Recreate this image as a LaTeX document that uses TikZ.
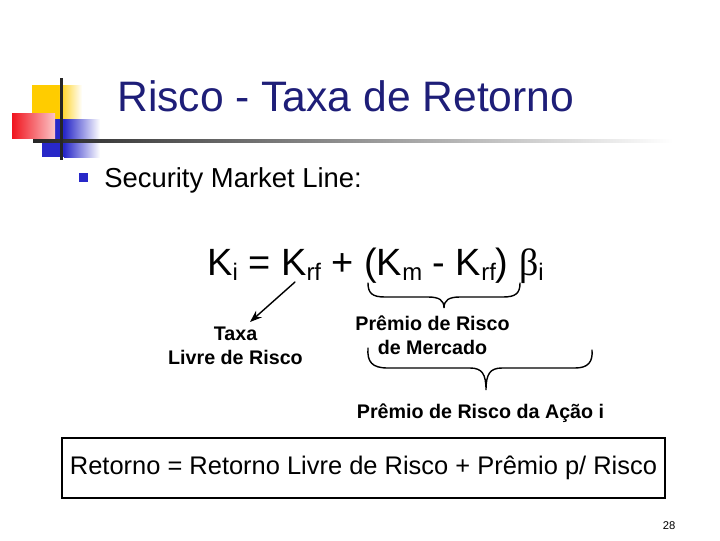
\documentclass[tikz,border=0pt]{standalone}
\usepackage{fontspec}
\setmainfont{Liberation Sans}
\newfontfamily\greekserif{Liberation Serif}
\usetikzlibrary{arrows.meta}
\usepackage{xcolor}
\definecolor{titleblue}{RGB}{30,30,120}
\definecolor{logoyellow}{RGB}{255,204,0}
\definecolor{logored}{RGB}{240,20,30}
\definecolor{logoblue}{RGB}{40,40,200}
\newcommand{\lowsub}[1]{\raisebox{-4pt}{\fontsize{17}{20}\selectfont #1}}

\begin{document}
\begin{tikzpicture}[x=0.025cm,y=-0.025cm,>={Stealth[length=3mm,width=2.2mm]},line cap=round,
  boldlbl/.style={font=\fontsize{14}{17}\selectfont\bfseries,align=center,inner sep=0pt},
  brace/.style={line width=1pt}]
\useasboundingbox (0,0) rectangle (720,540);
% logo
\fill[logoyellow] (32,85) rectangle (58,122);
\shade[left color=logoyellow,right color=white] (58,85) rectangle (82,122);
\fill[logoblue] (42,119) rectangle (64,157);
\shade[left color=logoblue,right color=white] (64,119) rectangle (100,157);
\shade[left color=logored,right color=logored!25] (12,113) rectangle (55,138);
\shade[left color=black!85,right color=white] (33,139.5) rectangle (673,142.5);
\fill[black!85] (59.5,78) rectangle (62.5,160);
\node[anchor=base west,text=titleblue,font=\fontsize{30.3}{36}\selectfont,inner sep=0pt] (title) at (117,111) {Risco - Taxa de Retorno};
% bullet
\fill[logoblue] (79,173) rectangle (88,182);
\node[anchor=base west,font=\fontsize{19.5}{23}\selectfont,inner sep=0pt] (sml) at (104,187) {Security Market Line:};
% formula
\node[anchor=base west,font=\fontsize{27}{32}\selectfont,inner sep=0pt] (eq) at (207,275)
  {K\lowsub{i} = K\lowsub{rf} + (K\lowsub{m} - K\lowsub{rf}) {\greekserif β}\lowsub{i}};
\coordinate (krf) at (295,282);
\coordinate (taxatip) at (250,322);
\draw[->,line width=1pt] (krf) -- (taxatip);
\node[boldlbl,anchor=base] (taxa) at (235.5,364) {Taxa\\Livre de Risco};
% brace under (Km - Krf)
\draw[brace] (368,283) .. controls (368,293) and (372,297) .. (385,297) -- (428,297)
  .. controls (439,297) and (444,300) .. (444,308)
  .. controls (444,300) and (449,297) .. (460,297) -- (503,297)
  .. controls (516,297) and (520,293) .. (520,283);
\node[boldlbl,anchor=base] (premio) at (432.5,354) {Prêmio de Risco\\de Mercado};
% brace of the whole premium
\draw[brace] (368,348) .. controls (367,362) and (372,368) .. (388,368) -- (470,368)
  .. controls (482,368) and (486,374) .. (486,390)
  .. controls (486,374) and (490,368) .. (502,368) -- (575,368)
  .. controls (588,368) and (593,362) .. (592,350);
\node[boldlbl,anchor=base] (acao) at (480.5,418) {Prêmio de Risco da Ação i};
% box
\node[draw,line width=1.4pt,minimum width=15.075cm,minimum height=1.5cm,
  font=\fontsize{18.1}{22}\selectfont] (retorno) at (363.5,468)
  {Retorno = Retorno Livre de Risco + Prêmio p/ Risco};
\node[anchor=base,font=\fontsize{8}{10}\selectfont,inner sep=0pt] (pagenum) at (669,529) {28};
\end{tikzpicture}
\end{document}
